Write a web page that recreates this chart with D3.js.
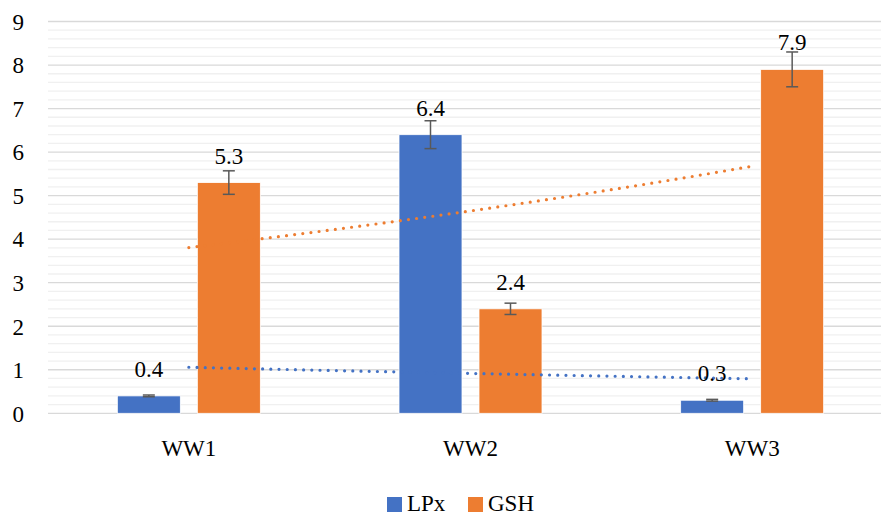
<!DOCTYPE html>
<html><head><meta charset="utf-8">
<script src="https://cdn.jsdelivr.net/npm/d3@7"></script>
<style>body{margin:0;background:#fff}svg{display:block}</style>
</head><body>
<svg id="chart" width="881" height="515"></svg>
<script>
const categories = ["WW1", "WW2", "WW3"];
const seriesNames = ["LPx", "GSH"];
const lpx = [0.4, 6.4, 0.3];
const gsh = [5.3, 2.4, 7.9];
const lpxErr = [0.02, 0.32, 0.02];
const gshErr = [0.27, 0.13, 0.4];
const yTicks = [0,1,2,3,4,5,6,7,8,9];
const colors = ["#4472C4", "#ED7D31"];

const svg = d3.select("#chart");
const font = "Liberation Serif, DejaVu Serif, serif";
const fs = 23;
const x0 = d3.scaleBand().domain(categories).range([48, 893]).paddingInner(0).paddingOuter(0);
const y = d3.scaleLinear().domain([0, 9]).range([413.3, 21.5]);
const barW = 63, gap = 17;
const x1 = d3.scaleBand().domain(seriesNames).range([0, 2*barW+gap]).paddingInner(gap/(barW+gap)).paddingOuter(0);
const groupOff = (x0.bandwidth() - (2*barW+gap)) / 2;

// minor grid
const minor = d3.range(0, 9.0001, 0.2).filter(v => Math.abs(v - Math.round(v)) > 1e-6);
svg.append("g").selectAll("line").data(minor).join("line")
  .attr("x1", 48).attr("x2", 881).attr("y1", d => y(d)).attr("y2", d => y(d))
  .attr("stroke", "#f0f0f0").attr("stroke-width", 1.3);
// major grid
svg.append("g").selectAll("line").data(yTicks).join("line")
  .attr("x1", 48).attr("x2", 881).attr("y1", d => y(d)).attr("y2", d => y(d))
  .attr("stroke", "#d9d9d9").attr("stroke-width", 1.3);

// y labels
const yAxis = d3.axisLeft(y).tickValues(yTicks).tickSize(0).tickPadding(0).tickFormat(d3.format("d"));
const ya = svg.append("g").attr("transform", "translate(24,0)").call(yAxis);
ya.select(".domain").remove();
ya.selectAll("text").attr("font-family", font).attr("font-size", fs).attr("fill", "#000").attr("dy", "0.34em");

// x labels
const xAxis = d3.axisBottom(x0).tickSize(0).tickPadding(0);
const xa = svg.append("g").attr("transform", "translate(0,440)").call(xAxis);
xa.select(".domain").remove();
xa.selectAll("text").attr("font-family", font).attr("font-size", fs).attr("fill", "#000").attr("dy", "0.71em");

const series = [
  {name: "LPx", vals: lpx, err: lpxErr, color: colors[0]},
  {name: "GSH", vals: gsh, err: gshErr, color: colors[1]}
];

series.forEach(s => {
  const g = svg.append("g");
  const bx = i => x0(categories[i]) + groupOff + x1(s.name);
  g.selectAll("rect").data(s.vals).join("rect")
    .attr("x", (d,i) => bx(i)).attr("width", x1.bandwidth())
    .attr("y", d => y(d)).attr("height", d => y(0) - y(d))
    .attr("fill", s.color).attr("stroke", "#fff").attr("stroke-width", 0.8);
  s.vals.forEach((v, i) => {
    const cx = bx(i) + x1.bandwidth()/2;
    const e = s.err[i];
    g.append("line").attr("x1", cx).attr("x2", cx).attr("y1", y(v+e)).attr("y2", y(v-e))
      .attr("stroke", "#595959").attr("stroke-width", 1.5);
    [v+e, v-e].forEach(t => g.append("line").attr("x1", cx-6).attr("x2", cx+6)
      .attr("y1", y(t)).attr("y2", y(t)).attr("stroke", "#595959").attr("stroke-width", 1.5));
  });
});

// exponential trendlines
series.forEach(s => {
  const xs = [1,2,3];
  const ln = s.vals.map(Math.log);
  const mx = d3.mean(xs), my = d3.mean(ln);
  const b = d3.sum(xs.map((xv,i) => (xv-mx)*(ln[i]-my))) / d3.sum(xs.map(xv => (xv-mx)**2));
  const a = my - b*mx;
  const pts = d3.range(1, 3.0001, 0.05).map(t => [t, Math.exp(a + b*t)]);
  const px = t => x0(categories[0]) + x0.bandwidth()/2 + (t-1)*x0.step();
  svg.append("path").datum(pts)
    .attr("d", d3.line().x(d => px(d[0])).y(d => y(d[1])))
    .attr("fill", "none").attr("stroke", s.color).attr("stroke-width", 3.2)
    .attr("stroke-linecap", "round").attr("stroke-dasharray", "0,8.2");
});

// data labels
series.forEach(s => {
  svg.append("g").selectAll("text").data(s.vals).join("text")
    .attr("x", (d,i) => x0(categories[i]) + groupOff + x1(s.name) + x1.bandwidth()/2)
    .attr("y", d => y(d) - 19)
    .attr("text-anchor", "middle").attr("font-family", font).attr("font-size", fs).attr("fill", "#000")
    .text(d => d3.format(".1f")(d));
});

// legend
const leg = svg.append("g");
const legItems = [{n: "LPx", c: colors[0], x: 387}, {n: "GSH", c: colors[1], x: 468}];
legItems.forEach(it => {
  leg.append("rect").attr("x", it.x).attr("y", 497).attr("width", 15).attr("height", 15).attr("fill", it.c);
  leg.append("text").attr("x", it.x + 20).attr("y", 511).attr("font-family", font).attr("font-size", fs)
    .attr("fill", "#000").text(it.n);
});
</script>
</body></html>
